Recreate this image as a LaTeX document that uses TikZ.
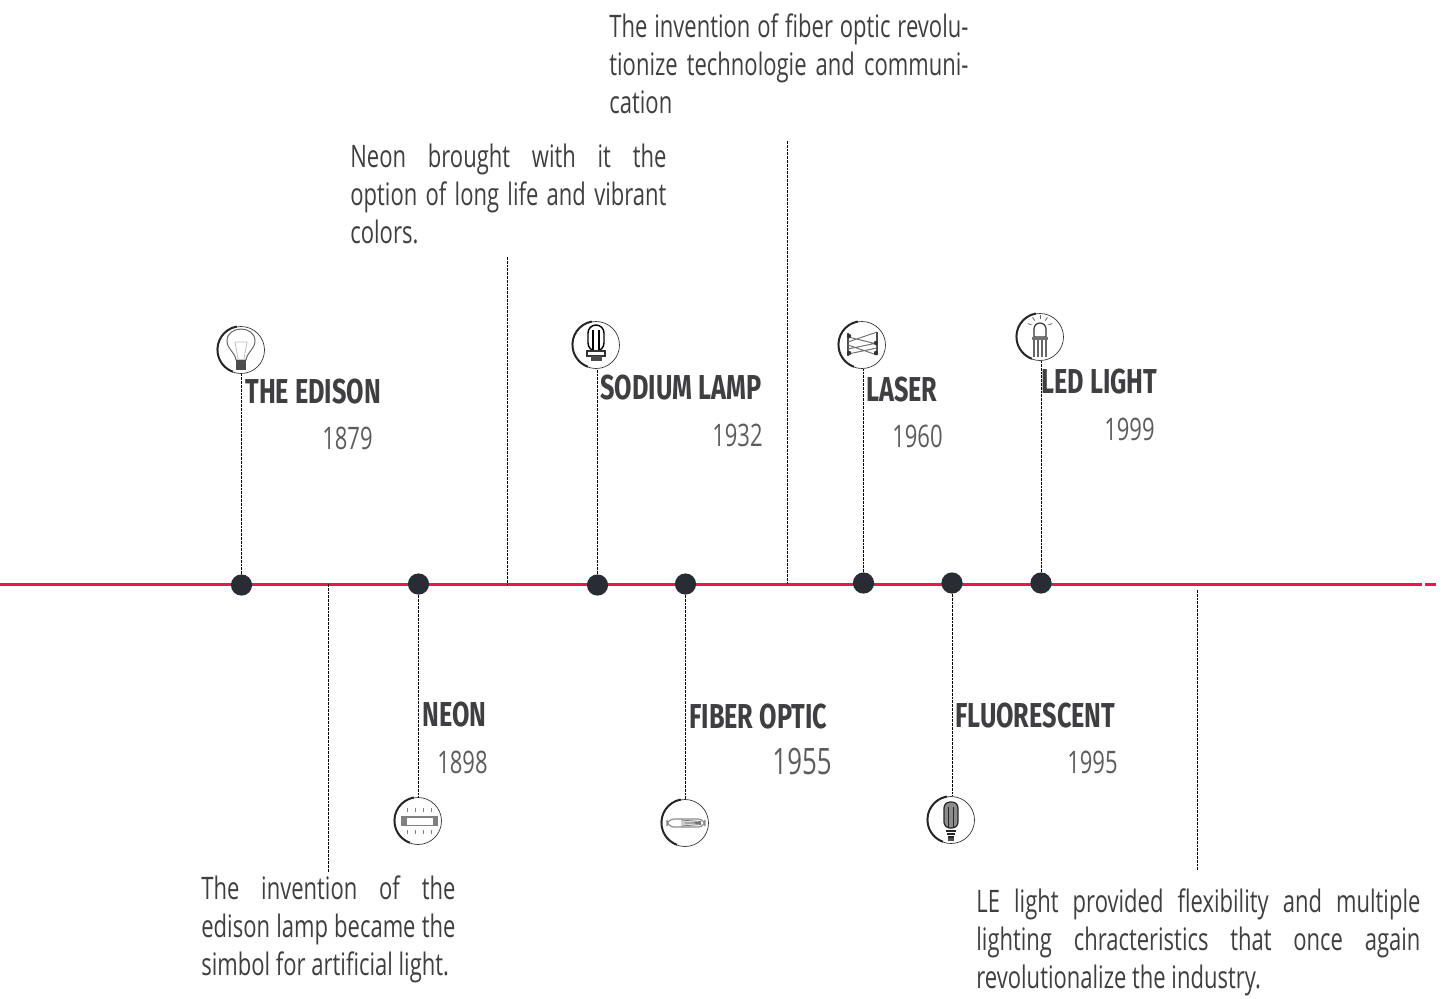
\documentclass[tikz,border=0pt]{standalone}
\usepackage{fontspec}
\setmainfont{Open Sans}[FakeStretch=0.71]
\newfontfamily\titlefont{Fira Sans}[FakeStretch=0.73,UprightFont=* Medium,BoldFont=* Bold]
\usetikzlibrary{positioning,calc}
\definecolor{inkgrey}{HTML}{3F3F41}
\definecolor{dotgrey}{HTML}{2A2C33}
\definecolor{linered}{HTML}{E8174F}
\newcommand{\fitline}[2]{\makebox[#1][s]{#2}}
\tikzset{
  axisline/.style={linered,line width=1.5pt},
  stem/.style={black,line width=0.5pt,dash pattern=on 1.4pt off 0.5pt},
  mark dot/.style={circle,fill=dotgrey,inner sep=0pt,minimum size=10.6pt},
  ring/.style={circle,draw=black!80,line width=0.35pt,inner sep=0pt,minimum size=23.5pt},
  title/.style={font=\titlefont\bfseries\fontsize{17.3}{19}\selectfont,text=inkgrey,inner sep=0pt},
  year/.style={font=\fontsize{15.5}{19}\selectfont,text=inkgrey!85,inner sep=0pt},
  story/.style={font=\fontsize{15.5}{19}\selectfont,text=inkgrey,inner sep=0pt,align=left,anchor=north west},
  pics/bulbicon/.style={code={
    \draw[black!60,line width=0.5pt] (-5,10) .. controls (-6,2) and (-14,-1) .. (-14,-9)
      .. controls (-14,-25) and (14,-25) .. (14,-9) .. controls (14,-1) and (6,2) .. (5,10) -- cycle;
    \draw[black!25,line width=0.4pt] (-6,-8) -- (6,-8) -- (3,9) (-6,-8) -- (-3,9);
    \fill[black!70] (-5,10) rectangle (5,20);
  }},
  pics/tubeicon/.style={code={
    \draw[black,line width=0.7pt,rounded corners=4pt] (-8,6) -- (-8,-20) -- (8,-20) -- (8,6) -- cycle;
    \foreach \tubex in {-3,3}
      \draw[black,line width=0.7pt] (\tubex,6) -- (\tubex,-15);
    \draw[black!80,line width=0.7pt,fill=white] (-9,6) rectangle (9,11);
    \fill[black!70] (-5,11) rectangle (6,16);
  }},
  pics/fluoicon/.style={code={
    \draw[black!85,line width=0.6pt,fill=black!45,rounded corners=3pt] (-7,8) -- (-7,-18) -- (7,-18) -- (7,8) -- cycle;
    \foreach \gapx in {-2.5,2.5}
      \draw[black!85,line width=0.5pt] (\gapx,8) -- (\gapx,-13);
    \foreach \capy in {11,14,17}
      \draw[black!85,line width=1pt] (-8+\capy*0.3,\capy) -- (8-\capy*0.3,\capy);
    \fill[black!70] (-3,18) rectangle (3,21);
  }},
  pics/lasericon/.style={code={
    \draw[black!70,line width=0.6pt] (-14,-12) -- (-14,11) (15,-13) -- (15,10);
    \draw[black!55,line width=0.5pt] (-14,-8) -- (15,-1) (-14,-3) -- (15,-13)
      (-14,4) -- (15,-2) (-14,0) -- (15,10) (-14,9) -- (15,3);
    \foreach \dotx/\doty in {-13/-9,-13/8,14/-2,14/8}
      \fill[black!80] (\dotx,\doty) circle (2.2);
  }},
  pics/ledicon/.style={code={
    \draw[black!80,line width=0.6pt] (-6,0) -- (-6,-8) arc[start angle=180,end angle=360,radius=6] -- (6,0) -- cycle;
    \fill[black!55] (-8,0) rectangle (8,3);
    \foreach \pinx in {-6,-2,2,6}
      \draw[black!60,line width=0.7pt] (\pinx,3) -- (\pinx,20);
    \foreach \raya in {-20,-55,-90,-125,-160}
      \draw[black!60,line width=0.4pt] ($(0,-9)+(\raya:9)$) -- ($(0,-9)+(\raya:13)$);
  }},
  pics/neonicon/.style={code={
    \fill[black!50] (-17,-5) rectangle (20,5);
    \fill[white] (-11,-3.5) rectangle (15,3.5);
    \foreach \tickx in {-11,-3,5,13} {
      \draw[black!50,line width=0.4pt] (\tickx,-9) -- (\tickx,-13);
      \draw[black!50,line width=0.4pt] (\tickx,9) -- (\tickx,13);
    }
  }},
  pics/fibericon/.style={code={
    \draw[black!45,line width=0.6pt,rounded corners=3.5pt] (-18,-4) rectangle (20,4);
    \foreach \fibery in {-3,-1,1,3}
      \draw[black!55,line width=0.4pt] (-4,\fibery) -- (16,\fibery*0.5);
  }},
}

\begin{document}
\begin{tikzpicture}[x=0.5pt,y=-0.5pt]
  \useasboundingbox (0,0) rectangle (1442,998);
  % axis
  \coordinate (axisL) at (0,584);
  \coordinate (axisR) at (1422,584);
  \coordinate (axisGapL) at (1425,584);
  \coordinate (axisGapR) at (1436,584);
  \draw[axisline] (axisL) -- (axisR);
  \draw[axisline] (axisGapL) -- (axisGapR);

  % free lines of the notes
  \coordinate (neonTop) at (507.5,257); \coordinate (neonFoot) at (507.5,584);
  \coordinate (fiberTop) at (787.5,141); \coordinate (fiberFoot) at (787.5,584);
  \coordinate (edisonHead) at (328.5,584); \coordinate (edisonEnd) at (328.5,872);
  \coordinate (ledHead) at (1197.5,590); \coordinate (ledEnd) at (1197.5,871);
  \draw[stem] (neonTop) -- (neonFoot);
  \draw[stem] (fiberTop) -- (fiberFoot);
  \draw[stem] (edisonHead) -- (edisonEnd);
  \draw[stem] (ledHead) -- (ledEnd);

  % marks and rings
  \foreach \nm/\mx/\my/\rx/\ry/\ra in {edison/241.5/585/241/350/south,neon/418.5/584/418/821/north,
      sodium/597.5/585/596/345/south,fiber/685.5/584/685/823/north,laser/863.5/583/862/345/south,
      fluo/952/583/951/820/north,led/1041/583/1040/337/south} {
    \node[mark dot] (\nm dot) at (\mx,\my) {};
    \node[ring] (\nm ring) at (\rx,\ry) {};
    \draw[black!85,line width=1pt] (\nm ring.100) arc[start angle=-100,end angle=-250,radius=23.5];
    \draw[stem] (\nm dot) -- (\nm dot |- \nm ring.\ra);
  }

  % icons
  \pic at (edisonring.center) {bulbicon};
  \pic at (sodiumring.center) {tubeicon};
  \pic at (laserring.center) {lasericon};
  \pic at (ledring.center) {ledicon};
  \pic at (neonring.center) {neonicon};
  \pic at (fiberring.center) {fibericon};
  \pic at (fluoring.center) {fluoicon};

  % titles and years
  \node[title,anchor=west] (edisonT) at (245,392) {THE EDISON};
  \node[year,anchor=east] (edisonY) at (373,438) {1879};
  \node[title,anchor=west] (sodiumT) at (600,387) {SODIUM LAMP};
  \node[year,anchor=east] (sodiumY) at (763,435) {1932};
  \node[title,anchor=west] (laserT) at (866,390) {LASER};
  \node[year,anchor=east] (laserY) at (943,436) {1960};
  \node[title,anchor=west] (ledT) at (1041,382) {LED LIGHT};
  \node[year,anchor=east] (ledY) at (1155,429) {1999};
  \node[title,anchor=west] (neonT) at (422,714) {NEON};
  \node[year,anchor=east] (neonY) at (488,762) {1898};
  \node[title,anchor=west] (fiberT) at (689,716) {FIBER OPTIC};
  \node[year,anchor=east,font=\fontsize{18.2}{19}\selectfont] (fiberY) at (832,761) {1955};
  \node[title,anchor=west] (fluoT) at (955,715) {FLUORESCENT};
  \node[year,anchor=east] (fluoY) at (1118,762) {1995};

  % notes
  \node[story] (fiberNote) at (609,13) {\fitline{179.5pt}{The invention of fiber optic revolu-}\\
    \fitline{179.5pt}{tionize technologie and communi-}\\cation};
  \node[story] (neonNote) at (350,144) {\fitline{158pt}{Neon brought with it the}\\
    \fitline{158pt}{option of long life and vibrant}\\colors.};
  \node[story] (edisonNote) at (201,875) {\fitline{127pt}{The invention of the}\\
    \fitline{127pt}{edison lamp became the}\\simbol for artificial light.};
  \node[story] (ledNote) at (976,888) {\fitline{222pt}{LE light provided flexibility and multiple}\\
    \fitline{222pt}{lighting chracteristics that once again}\\revolutionalize the industry.};
\end{tikzpicture}
\end{document}
